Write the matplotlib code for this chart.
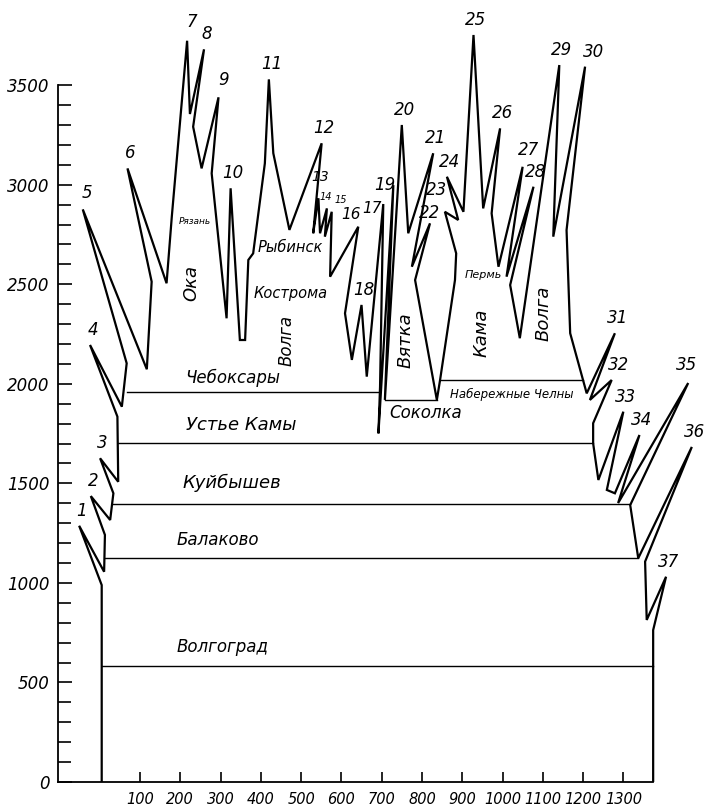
import matplotlib
matplotlib.use("Agg")
import matplotlib.pyplot as plt
from matplotlib.ticker import FixedLocator

plt.rcParams['font.family'] = ['DejaVu Sans']
plt.rcParams['font.style'] = 'italic'

# contour of the scheme: left side bottom -> tops -> right side bottom
contour_km = [5, 5, -51, 11, 13, -22, 26, 34, 1, 46, 44, -24, 55, 67, -42, 117, 129, 69,
              166, 179, 217, 224, 259, 232, 253, 295, 278, 315, 325, 348, 361, 369, 381,
              410, 420, 431, 471, 551, 530, 543, 547, 564, 559, 576, 572, 642, 609, 626,
              650, 663, 704, 696, 692, 729, 708, 750, 766, 828, 775, 820, 783, 837, 845,
              882, 885, 857, 890, 862, 903, 928, 952, 994, 973, 990, 1050, 1010, 1077,
              1019, 1043, 1141, 1126, 1205, 1159, 1168, 1209, 1279, 1217, 1271, 1225,
              1225, 1238, 1300, 1259, 1279, 1340, 1287, 1461, 1317, 1337, 1470, 1354,
              1358, 1406, 1374, 1374]
contour_val = [0, 989, 1287, 1056, 1241, 1436, 1316, 1450, 1626, 1508, 1835, 2195, 1885,
               2103, 2876, 2073, 2513, 3082, 2505, 2839, 3723, 3355, 3680, 3291, 3082, 3439,
               3057, 2329, 2982, 2220, 2220, 2622, 2655, 3107, 3529, 3158, 2773, 3208, 2756,
               2932, 2756, 2881, 2739, 2864, 2538, 2789, 2354, 2120, 2396, 2036, 2903, 1985,
               1751, 2998, 1919, 3300, 2756, 3158, 2588, 2806, 2521, 1919, 2019, 2521, 2655,
               2864, 2823, 3040, 2864, 3752, 2881, 3283, 2856, 2588, 3090, 2538, 2990, 2496,
               2229, 3601, 2739, 3593, 2772, 2254, 1952, 2254, 1919, 2019, 1802, 1701, 1517,
               1860, 1467, 1450, 1743, 1401, 2004, 1391, 1124, 1683, 1107, 814, 1031, 763, 0]

# tops of the numbered spikes 1..37
spike_km = [-51, -22, 1, -24, -42, 69, 217, 259, 295, 325, 420, 551, 543, 564, 576, 642,
            704, 650, 729, 750, 828, 820, 857, 862, 928, 994, 1050, 1077, 1141, 1205, 1279,
            1271, 1300, 1340, 1461, 1470, 1406]
spike_val = [1287, 1436, 1626, 2195, 2876, 3082, 3723, 3680, 3439, 2982, 3529, 3208, 2932,
             2881, 2864, 2789, 2903, 2396, 2998, 3300, 3158, 2806, 2864, 3040, 3752, 3283,
             3090, 2990, 3601, 3593, 2254, 2019, 1860, 1743, 2004, 1683, 1031]

# reservoir levels
level_names = ["Волгоград", "Балаково", "Куйбышев", "Устье Камы", "Чебоксары",
               "Соколка", "Набережные Челны"]
level_val = [583, 1124, 1396, 1701, 1960, 1919, 2019]
level_start = [5, 13, 34, 45, 67, 708, 845]
level_end = [1374, 1337, 1317, 1225, 696, 837, 1201]

fig = plt.figure(figsize=(7.05, 8.11), dpi=100)
ax = fig.add_axes([58 / 705, 29 / 811, 647 / 705, 782 / 811])
ax.set_xlim(-103.5, 1502.7)
ax.set_ylim(0, 3927.7)

ax.plot(contour_km, contour_val, color='black', lw=1.6, solid_joinstyle='miter')
for v, a, b in zip(level_val, level_start, level_end):
    ax.plot([a, b], [v, v], color='black', lw=1.0)

# spike numbers: label centre offset from the top, in pixels (right, up)
nudge = {5: (4.6, 16), 7: (4.7, 19), 9: (5.3, 17), 13: (1.7, 21.6), 14: (-1, 11),
         15: (9.5, 12), 16: (-7, 12), 17: (-11.6, -4.3), 19: (-8.3, 0),
         22: (0, 10), 23: (-8.3, 21.7), 27: (5.6, 16.7), 30: (8.3, 15), 32: (6.6, 15),
         35: (-1.3, 18)}
small = {13: 10, 14: 7, 15: 7, 16: 11, 17: 11}
for i, (x, y) in enumerate(zip(spike_km, spike_val), start=1):
    dx, dy = nudge.get(i, (2.5, 15))
    ax.annotate(str(i), (x, y), xytext=(dx * 0.72, dy * 0.72),
                textcoords='offset points', ha='center', va='center',
                fontsize=small.get(i, 12))

# place names
texts = [
    ("Волгоград", 304, 680, 0, 12), ("Балаково", 294, 1215, 0, 12),
    ("Куйбышев", 328, 1500, 0, 13), ("Устье Камы", 351, 1793, 0, 13),
    ("Чебоксары", 331, 2029, 0, 12), ("Соколка", 810, 1852, 0, 12),
    ("Набережные Челны", 1024, 1944, 0, 8.5), ("Вятка", 758, 2220, 90, 13),
    ("Кама", 948, 2254, 90, 13), ("Волга", 1101, 2354, 90, 13),
    ("Волга", 464, 2220, 90, 12), ("Ока", 228, 2505, 90, 13),
    ("Рязань", 237, 2813, 0, 6.5), ("Рыбинск", 472, 2687, 0, 10.5),
    ("Кострома", 475, 2456, 0, 10.5), ("Пермь", 952, 2546, 0, 8),
]
for t, x, y, r, s in texts:
    ax.text(x, y, t, rotation=r, fontsize=s, ha='center', va='center')

for side in ['top', 'right']:
    ax.spines[side].set_visible(False)
ax.spines['left'].set_bounds(0, 3500)
ax.spines['bottom'].set_bounds(-103.5, 1374)
ax.spines['left'].set_linewidth(1.3)
ax.spines['bottom'].set_linewidth(1.3)

ax.set_yticks(range(0, 3501, 500))
ax.yaxis.set_minor_locator(FixedLocator([v for v in range(0, 3501, 100) if v % 500]))
ax.set_xticks(range(100, 1301, 100))
ax.tick_params(axis='y', which='major', direction='in', length=10, width=1.2,
               labelsize=12, pad=6)
ax.tick_params(axis='y', which='minor', direction='in', length=9, width=1.2)
ax.tick_params(axis='x', direction='in', length=7, width=1.2, labelsize=10.5, pad=7)

fig.savefig('out.png', dpi=100)
